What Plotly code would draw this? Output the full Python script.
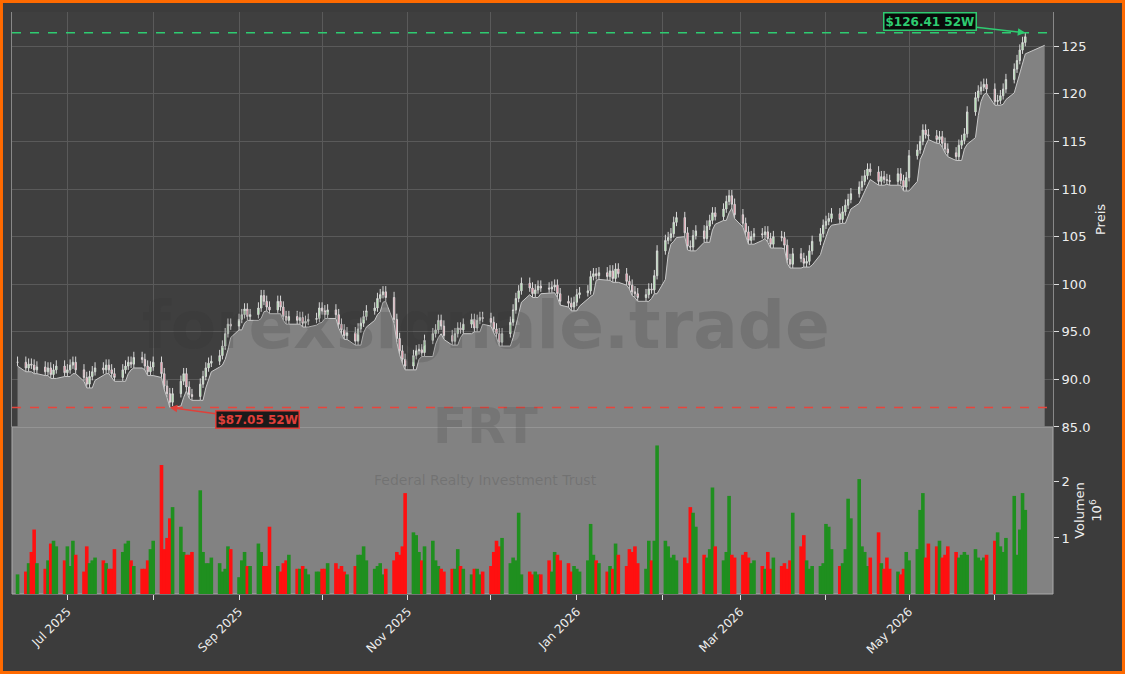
import pandas as pd
import plotly.graph_objects as go
from plotly.subplots import make_subplots

# daily closes (Jun 2025 - Jun 2026)
close = [
    91.8, 91.2, 91.6,
    91.5, 91.0, 91.3, 90.8, 91.2, 90.5, 91.0, 91.4, 90.7, 91.0, 91.5, 91.8, 91.0,
    90.2, 89.5, 90.3, 90.8, 91.2, 91.0, 91.5, 91.0, 90.6, 90.2, 91.0, 91.4, 91.8, 91.6, 92.3, 92.1, 91.4, 90.8, 91.3, 91.8, 90.6, 89.3, 88.5,
    87.6, 88.5, 89.8, 90.6, 89.2, 88.4, 88.2, 89.5, 90.3, 91.2, 91.7, 91.9, 92.5, 93.5, 94.8, 95.8, 95.6, 96.3, 96.8, 97.4, 96.6,
    96.8, 97.5, 98.8, 98.2, 97.6, 97.3, 98.2, 97.6, 96.6, 96.2, 96.6, 96.2, 96.5, 95.9, 96.1, 96.3, 96.4, 97.5, 97.2, 96.8, 97.3, 96.8,
    95.8, 95.2, 94.6, 94.9, 94.0, 95.3, 95.9, 96.6, 97.2, 97.5, 98.5, 98.9, 99.2, 98.6, 96.3, 94.3, 93.0, 92.1, 91.4, 92.5, 93.0, 93.1, 92.8,
    94.1, 94.8, 95.2, 96.2, 95.6, 94.6, 94.0, 94.8, 95.4, 95.2, 95.8, 96.3, 95.4, 96.2, 96.5, 96.4, 96.0, 95.3, 94.8,
    93.9, 94.8, 96.0, 97.3, 98.5, 99.3, 100.1, 99.6, 99.0, 99.4, 99.8, 99.6, 99.5, 99.7, 99.9, 99.0, 98.2, 98.0, 97.6, 98.1, 98.9, 99.1,
    99.3, 100.8, 101.1, 100.9, 101.2, 100.8, 101.4, 100.6, 101.6, 101.1, 100.3, 99.9, 99.2, 99.0, 98.6, 98.9, 99.5, 99.4, 100.9, 103.5, 104.6,
    104.9, 105.3, 106.5, 107.0, 105.4, 104.0, 103.9, 105.1, 105.6, 104.8, 106.1, 106.7, 107.5, 107.1, 107.9, 108.7, 109.3, 108.4, 107.3, 106.4,
    105.5, 104.6, 105.0, 105.3, 105.2, 105.5, 104.8, 104.2, 105.0, 104.9, 104.1, 102.6, 102.1, 103.2, 102.7, 102.2, 102.4, 103.5, 104.5, 105.3, 106.2, 106.6,
    106.9, 107.4, 106.8, 107.6, 108.3, 108.9, 109.5, 110.2, 110.8, 111.4, 112.1, 111.8, 110.8, 111.3, 111.0, 110.9, 110.8, 111.6, 110.9, 110.2, 111.2, 113.5,
    114.1, 115.0, 116.2, 115.7, 115.6, 115.2, 115.5, 114.8, 114.2, 113.8, 113.4, 114.6, 115.1, 115.8, 118.1, 119.6, 120.3, 120.7, 121.0, 120.5, 119.2,
    119.3, 119.8, 120.5, 121.5, 122.6, 123.5, 124.6, 125.4, 126.0,
]

# daily volume in millions
volume = [
    0.35, 0.4, 0.55, 0.75, 1.15, 0.55, 0.45, 0.6, 0.9, 0.95, 0.85, 0.6, 0.85, 0.5, 0.95, 0.7,
    0.4, 0.85, 0.55, 0.6, 0.65, 0.6, 0.55, 0.45, 0.45, 0.8, 0.75, 0.9, 0.95, 0.6, 0.5, 0.45, 0.45, 0.6, 0.8, 0.95, 2.3, 0.8, 1.0,
    1.35, 1.55, 1.2, 0.75, 0.7, 0.7, 0.75, 1.85, 0.75, 0.55, 0.55, 0.65, 0.55, 0.4, 0.45, 0.85, 0.8, 0.3, 0.6, 0.75, 0.5,
    0.5, 0.9, 0.75, 0.5, 0.5, 1.2, 0.5, 0.4, 0.55, 0.6, 0.7, 0.45, 0.45, 0.5, 0.45, 0.35, 0.4, 0.4, 0.45, 0.45, 0.55, 0.55,
    0.45, 0.5, 0.4, 0.35, 0.5, 0.7, 0.7, 0.85, 0.6, 0.45, 0.5, 0.55, 0.35, 0.45, 0.6, 0.75, 0.7, 0.85, 1.8, 1.1, 1.05, 0.75, 0.6,
    0.85, 0.95, 0.6, 0.5, 0.45, 0.4, 0.45, 0.45, 0.8, 0.5, 0.45, 0.35, 0.45, 0.45, 0.35, 0.4, 0.5, 0.75, 0.95,
    0.85, 1.0, 0.55, 0.65, 0.6, 1.45, 0.35, 0.4, 0.35, 0.4, 0.35, 0.35, 0.6, 0.4, 0.75, 0.7, 0.6, 0.55, 0.4, 0.5, 0.45, 0.4,
    0.6, 1.25, 0.7, 0.6, 0.55, 0.4, 0.5, 0.45, 0.9, 0.7, 0.5, 0.8, 0.75, 0.85, 0.55, 0.45, 0.95, 0.6, 0.95, 2.65, 0.95,
    0.85, 0.65, 0.7, 0.6, 0.65, 0.55, 1.55, 1.45, 1.2, 0.7, 0.65, 0.8, 1.9, 0.85, 0.6, 0.75, 1.75, 0.7, 0.65, 0.7,
    0.75, 0.65, 0.55, 0.6, 0.5, 0.45, 0.75, 0.45, 0.65, 0.5, 0.55, 0.45, 0.6, 1.45, 0.85, 1.05, 0.6, 0.45, 0.5, 0.5, 0.55, 1.25,
    1.2, 0.8, 0.5, 0.55, 0.8, 1.7, 1.35, 2.05, 0.85, 0.75, 0.5, 0.65, 1.1, 0.55, 0.45, 0.65, 0.45, 0.4, 0.35, 0.45, 0.75, 0.6,
    0.8, 1.5, 1.8, 0.65, 0.9, 0.85, 0.95, 0.65, 0.7, 0.85, 0.75, 0.65, 0.7, 0.75, 0.7, 0.8, 0.65, 0.6, 0.65, 0.7, 0.95,
    1.1, 0.85, 0.75, 1.0, 1.75, 0.7, 1.15, 1.8, 1.5,
]

low_52w = 87.05
high_52w = 126.41

dates = pd.bdate_range(end="2026-06-12", periods=len(close))
df = pd.DataFrame({"close": close, "volume": volume}, index=dates)
df["open"] = df["close"].shift(1).fillna(df["close"].iloc[0])
df["high"] = df[["open", "close"]].max(axis=1) + 0.6
df["low"] = df[["open", "close"]].min(axis=1) - 0.4
df.loc[df["low"].idxmin(), "low"] = low_52w
df.loc[df.index[-1], "high"] = high_52w
# the grey band trails the lows
band = df["low"].rolling(2, min_periods=1).min()

up = df["close"] >= df["open"]
vol_colors = ["#1f8f1f" if u else "#ff1010" for u in up]

fig = make_subplots(rows=2, cols=1, shared_xaxes=True, vertical_spacing=0,
                    row_heights=[0.713, 0.287])

area_x = list(df.index) + [pd.Timestamp("2026-06-19")]
area_y = list(band) + [125.1]
fig.add_trace(go.Scatter(x=area_x, y=area_y, mode="lines", fill="tozeroy",
                         line=dict(color="#c8c8c8", width=1), fillcolor="#828282",
                         hoverinfo="skip"), row=1, col=1)

fig.add_trace(go.Candlestick(
    x=df.index, open=df["open"], high=df["high"], low=df["low"], close=df["close"],
    increasing=dict(fillcolor="#90ee90", line=dict(color="#d8d8d8", width=1)),
    decreasing=dict(fillcolor="#ff6f8f", line=dict(color="#d8d8d8", width=1)),
    whiskerwidth=0), row=1, col=1)

fig.add_trace(go.Bar(x=df.index, y=df["volume"], marker_color=vol_colors,
                     marker_line_width=0, width=86400000 * 1.3), row=2, col=1)

# 52-week lines
fig.add_hline(y=high_52w, line=dict(color="#2ecc71", dash="dash", width=1.5), row=1, col=1)
fig.add_hline(y=low_52w, line=dict(color="#e8453c", dash="dash", width=1.5), row=1, col=1)

fig.add_annotation(x=df.index[-1], y=high_52w, xref="x", yref="y",
                   text="<b>$126.41 52W</b>", ax=-95, ay=-11,
                   font=dict(color="#2ecc71", size=12, family="DejaVu Sans"),
                   bgcolor="#0a0a0a", bordercolor="#2ecc71", borderwidth=1.5,
                   arrowcolor="#2ecc71", arrowwidth=1.5, arrowhead=2, arrowsize=1)
fig.add_annotation(x=df["low"].idxmin(), y=low_52w, xref="x", yref="y",
                   text="<b>$87.05 52W</b>", ax=88, ay=12,
                   font=dict(color="#e0403a", size=12, family="DejaVu Sans"),
                   bgcolor="#1a1a1a", bordercolor="#e0403a", borderwidth=1.5,
                   arrowcolor="#e0403a", arrowwidth=1.5, arrowhead=2, arrowsize=1)

# watermarks
fig.add_annotation(x=0.455, y=0.462, xref="paper", yref="paper", showarrow=False,
                   text="<b>forexsignale.trade</b>",
                   font=dict(size=66, color="rgba(50,50,50,0.18)", family="DejaVu Sans"))
fig.add_annotation(x=0.455, y=0.235, xref="paper", yref="paper", showarrow=False,
                   text="<b>FRT</b>",
                   font=dict(size=50, color="rgba(60,60,60,0.18)", family="DejaVu Sans"))
fig.add_annotation(x=0.455, y=0.178, xref="paper", yref="paper", showarrow=False,
                   text="Federal Realty Investment Trust",
                   font=dict(size=14, color="rgba(60,60,60,0.22)", family="DejaVu Sans"))

# volume panel background and orange frame
fig.add_shape(type="rect", xref="x2 domain", yref="y2 domain", x0=0, x1=1, y0=0, y1=1,
              fillcolor="#828282", line=dict(color="#aaaaaa", width=1), layer="below")
fig.add_shape(type="rect", xref="paper", yref="paper", x0=-0.0101, x1=1.0677,
              y0=-0.1349, y1=1.0180, line=dict(color="#ff6a00", width=3))

months = pd.date_range("2025-07-01", "2026-06-01", freq="MS")
labels = [m.strftime("%b %Y") if i % 2 == 0 else "" for i, m in enumerate(months)]
xr = [pd.Timestamp("2025-06-11"), pd.Timestamp("2026-06-22")]

fig.update_xaxes(range=xr, tickvals=months, ticktext=labels, showgrid=True,
                 gridcolor="#5a5a5a", rangeslider_visible=False, showline=False,
                 zeroline=False, automargin=False)
fig.update_xaxes(showticklabels=False, row=1, col=1)
fig.update_xaxes(tickangle=-45, ticks="outside", ticklen=5, tickcolor="#dddddd",
                 tickfont=dict(color="#eeeeee", size=12), showgrid=False, row=2, col=1)

fig.update_yaxes(side="right", range=[85, 128.6], tickvals=[85, 90, 95, 100, 105, 110, 115, 120, 125],
                 ticktext=["85.0", "90.0", "95.0", "100", "105", "110", "115", "120", "125"],
                 ticks="outside", ticklen=5, tickcolor="#dddddd", automargin=False,
                 gridcolor="#5a5a5a", tickfont=dict(color="#eeeeee", size=13),
                 title=dict(text="Preis", font=dict(color="#eeeeee", size=13), standoff=6),
                 zeroline=False, showline=True, linecolor="#888888", mirror=True, row=1, col=1)
fig.update_yaxes(side="right", range=[0, 2.98], tickvals=[1, 2], ticktext=["1", "2"],
                 ticks="outside", ticklen=5, tickcolor="#dddddd", automargin=False,
                 showgrid=False, tickfont=dict(color="#eeeeee", size=13),
                 title=dict(text="Volumen<br>10<sup>6</sup>", font=dict(color="#eeeeee", size=13), standoff=6),
                 zeroline=False, row=2, col=1)

fig.update_layout(width=1125, height=674, showlegend=False,
                  paper_bgcolor="#3c3c3c", plot_bgcolor="#3f3f3f",
                  margin=dict(l=12, r=72, t=12, b=80, autoexpand=False),
                  font=dict(family="DejaVu Sans"))

fig.write_html("out.html", config={"displayModeBar": False},
               post_script="document.body.style.margin='0';")
